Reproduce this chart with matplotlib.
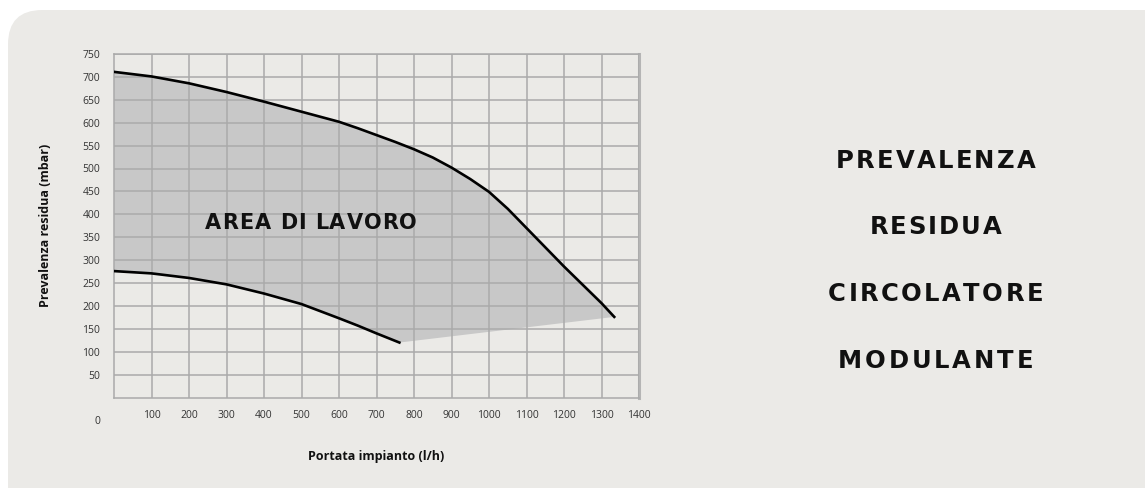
import matplotlib
matplotlib.use("Agg")
import matplotlib.pyplot as plt
from matplotlib.font_manager import FontProperties
from matplotlib.patches import FancyBboxPatch, Polygon

# curve values
portata_max = [0, 100, 200, 300, 400, 500, 600, 650, 700, 750, 800, 850, 900, 950, 1000,
               1050, 1100, 1150, 1200, 1250, 1300, 1334]
prev_max = [711, 701, 686, 667, 646, 624, 602, 588, 573, 558, 542, 524, 502, 477, 449,
            412, 370, 328, 286, 246, 206, 176]
portata_min = [0, 100, 200, 300, 400, 500, 600, 650, 700, 761]
prev_min = [276, 271, 261, 247, 227, 204, 173, 157, 140, 120]

x_ticks = list(range(100, 1500, 100))
y_ticks = list(range(50, 800, 50))
side_title = ["PREVALENZA", "RESIDUA", "CIRCOLATORE", "MODULANTE"]
area_label = "AREA DI LAVORO"

FONT = ["Open Sans", "DejaVu Sans"]
TITLE_FONT = ["DejaVu Sans"]
BG = "#ebeae7"
GRID = "#aaaaaa"
W, H = 1145, 488

fig = plt.figure(figsize=(W / 100, H / 100), dpi=100)
fig.patch.set_facecolor("white")
card = FancyBboxPatch((8 / W, -0.1), 1.2, 1.0 - 10 / H + 0.1,
                      boxstyle="round,pad=0,rounding_size=0.03",
                      transform=fig.transFigure, facecolor=BG, edgecolor="none",
                      mutation_aspect=W / H, zorder=-5)
fig.patches.append(card)
renderer = fig.canvas.get_renderer()


def tracked(cx, cy, s, size, width, color="#111111"):
    """Bold caps centred at pixel (cx, cy), letter-spaced out to a given width."""
    fp = FontProperties(family=TITLE_FONT, weight="bold", size=size)
    space_w = renderer.get_text_width_height_descent("H H", fp, ismath=False)[0] - \
        renderer.get_text_width_height_descent("HH", fp, ismath=False)[0]
    widths = [space_w if ch == " " else
              renderer.get_text_width_height_descent(ch, fp, ismath=False)[0] for ch in s]
    track = (width - sum(widths)) / (len(s) - 1)
    cap = renderer.get_text_width_height_descent("H", fp, ismath=False)
    base = cy + (cap[1] - cap[2]) / 2
    x = cx - width / 2
    for ch, w in zip(s, widths):
        if ch != " ":
            fig.text(x / W, 1 - base / H, ch, ha="left", va="baseline",
                     fontproperties=fp, color=color, zorder=6)
        x += w + track


ax = fig.add_axes([114 / W, 1 - 397.5 / H, (639 - 114) / W, (397.5 - 54) / H])
ax.set_facecolor(BG)
ax.set_xlim(0, 1400)
ax.set_ylim(0, 750)

# working area: upper curve, then straight edge back to the end of the lower curve
pts = list(zip(portata_max, prev_max)) + list(zip(portata_min[::-1], prev_min[::-1]))
ax.add_patch(Polygon(pts, closed=True, facecolor="#c8c8c8", edgecolor="none", zorder=1))

ax.set_xticks(x_ticks)
ax.set_yticks(y_ticks)
ax.grid(True, color=GRID, linewidth=1.1, zorder=2)
ax.set_axisbelow(False)
ax.tick_params(length=0, labelsize=7.5, labelcolor="#333333", labelfontfamily=FONT)
ax.tick_params(axis="x", pad=9)
ax.tick_params(axis="y", pad=10)
for s in ax.spines.values():
    s.set_color(GRID)
    s.set_linewidth(1.1)
ax.spines["right"].set_color("#b5b5b5")
ax.spines["right"].set_linewidth(2.2)

ax.plot(portata_max, prev_max, color="black", linewidth=1.9, zorder=4,
        solid_joinstyle="round")
ax.plot(portata_min, prev_min, color="black", linewidth=1.9, zorder=4,
        solid_joinstyle="round")

ax.text(-45, -52, "0", ha="center", va="center", fontsize=7.5, color="#333333",
        family=FONT)

ax.set_xlabel("Portata impianto (l/h)", fontsize=9, fontweight="bold", family=FONT,
              labelpad=21, color="#111111")
ax.set_ylabel("Prevalenza residua (mbar)", fontsize=9, fontweight="bold", family=FONT,
              labelpad=22, color="#111111")

tracked(311, 221, area_label, 15, 212)
title_widths = [200, 132, 215, 195]
for i, word in enumerate(side_title):
    tracked(935.5, 159 + i * 66.5, word, 17.5, title_widths[i])

fig.savefig("out.png", dpi=100, facecolor=fig.get_facecolor())
